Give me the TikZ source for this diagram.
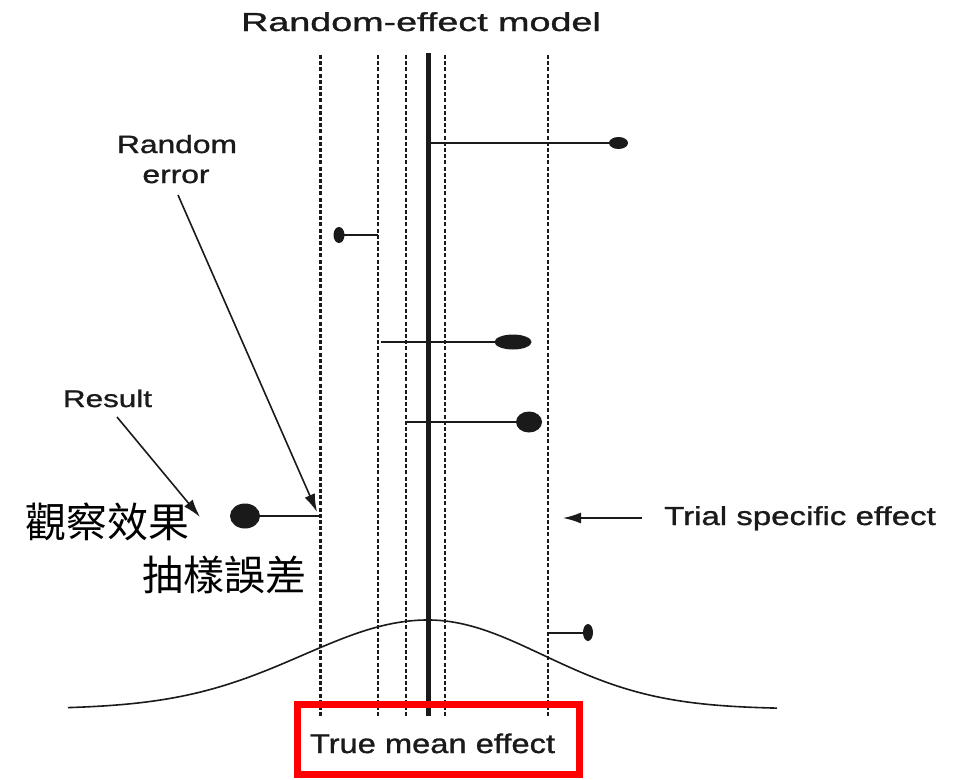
\documentclass[tikz,border=0pt]{standalone}
\usepackage{fontspec}
\setmainfont{Liberation Sans}
\newfontfamily\lblfont{Liberation Sans}[FakeBold=1]
\newfontfamily\cjk{Noto Sans CJK TC}
\usetikzlibrary{shapes.geometric,arrows.meta}
\definecolor{ink}{HTML}{1A1A1A}
\begin{document}
\begin{tikzpicture}[x=1pt,y=-1pt,
  vdash/.style={draw=ink,line width=2.2pt,dash pattern=on 4pt off 2.2pt},
  dot/.style={ellipse,fill=ink,inner sep=0pt},
  hbar/.style={draw=ink,line width=2pt},
  lbl/.style={text=ink,inner sep=0pt,anchor=base,font=\lblfont},
  cjklbl/.style={text=black,inner sep=0pt,anchor=base},
  pointer/.style={draw=ink,line width=1.6pt,-{Latex[length=18pt,width=11pt]}}]
\useasboundingbox (0,0) rectangle (953,779);

% vertical dashed lines
\foreach \n/\x in {a/320.5,b/377.7,c/406,d/444.7,e/547.7}{
  \coordinate (\n t) at (\x,55);
  \coordinate (\n b) at (\x,716);
  \draw[vdash] (\n t) -- (\n b);
}
% true mean line
\coordinate (mt) at (428,53);
\coordinate (mb) at (428,716);
\draw[ink,line width=5pt] (mt) -- (mb);

% normal curve
\draw[ink,line width=1.6pt] plot[domain=68:428,samples=90] (\x,{709-89*exp(-0.5*((\x-428)/125)^2)})
  -- plot[domain=428:777,samples=90] (\x,{709-89*exp(-0.5*((\x-428)/115)^2)});

% trials
\node[dot,minimum width=19pt,minimum height=12pt] (r1) at (618.5,143) {};
\coordinate (s1) at (428,143);
\draw[hbar] (s1) -- (r1.center);

\node[dot,minimum width=11pt,minimum height=16pt] (r2) at (339,235) {};
\coordinate (s2) at (377.7,235);
\draw[hbar] (s2) -- (r2.center);

\node[dot,minimum width=37pt,minimum height=15pt] (r3) at (513,342) {};
\coordinate (s3) at (381,342);
\draw[hbar] (s3) -- (r3.center);

\node[dot,minimum width=26pt,minimum height=21pt] (r4) at (529,422) {};
\coordinate (s4) at (406,422);
\draw[hbar] (s4) -- (r4.center);

\node[dot,minimum width=30pt,minimum height=25pt] (r5) at (245,516) {};
\coordinate (s5) at (320.5,516);
\draw[hbar] (s5) -- (r5.center);

\node[dot,minimum width=10pt,minimum height=17pt] (r6) at (588,632.5) {};
\coordinate (s6) at (547.7,632.5);
\draw[hbar] (s6) -- (r6.center);

% labels
\node[lbl] (title) at (421,31) {\fontsize{26}{30}\selectfont\scalebox{1.45}[1]{Random-effect model}};
\node[lbl] (re1) at (177,153) {\fontsize{25}{30}\selectfont\scalebox{1.27}[1]{Random}};
\node[lbl] (re2) at (176,183) {\fontsize{25}{30}\selectfont\scalebox{1.27}[1]{error}};
\node[lbl] (res) at (107.5,407) {\fontsize{24}{30}\selectfont\scalebox{1.31}[1]{Result}};
\node[lbl] (tse) at (800,525) {\fontsize{26}{30}\selectfont\scalebox{1.27}[1]{Trial specific effect}};
\node[lbl] (tme) at (432.5,753) {\fontsize{27}{30}\selectfont\scalebox{1.21}[1]{True mean effect}};
\node[cjklbl] (obs) at (107.5,537) {\cjk\fontsize{41}{45}\selectfont 觀察效果};
\node[cjklbl] (samp) at (224,590) {\cjk\fontsize{41}{45}\selectfont 抽樣誤差};

% pointers
\coordinate (p1s) at (178,195);
\coordinate (p1e) at (317,512);
\draw[pointer] (p1s) -- (p1e);
\coordinate (p2s) at (117,417);
\coordinate (p2e) at (200,517);
\draw[pointer] (p2s) -- (p2e);
\coordinate (p3s) at (642,518);
\coordinate (p3e) at (563,518);
\draw[pointer] (p3s) -- (p3e);

% highlight box
\coordinate (bx1) at (297,704.5);
\coordinate (bx2) at (579.5,774);
\draw[red,line width=7pt] (bx1) rectangle (bx2);
\end{tikzpicture}
\end{document}
